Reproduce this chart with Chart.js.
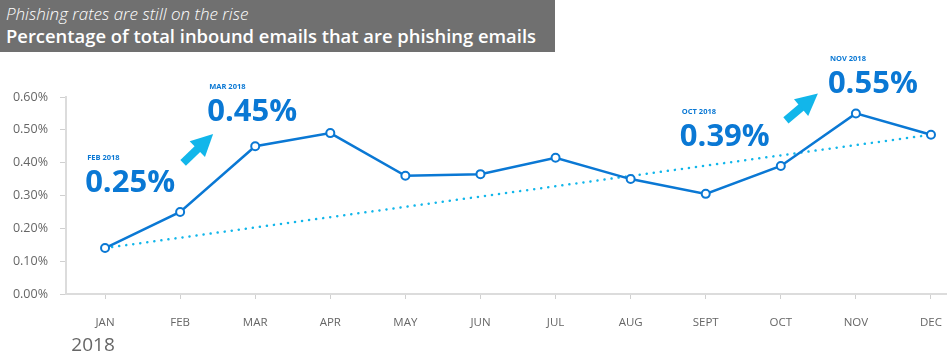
<html>
<head>
  <meta name="viewport" content="width=device-width, initial-scale=1">
  <script type="text/javascript" src="https://cdn.jsdelivr.net/npm/chart.js"></script>
  <style>
    body { margin: 0; background: #fff; }
    #wrap { position: relative; width: 952px; height: 361px; }
    #title { position: absolute; left: 0; top: 0; width: 555px; height: 52px; background: #707070; color: #fff;
      font-family: "Open Sans", sans-serif; padding-left: 6px; box-sizing: border-box; }
    #t1 { font-style: italic; font-weight: 300; font-size: 17px; line-height: 20px; padding-top: 4px; }
    #t2 { font-weight: 600; font-size: 18.4px; line-height: 24px; }
  </style>
</head>
<body>
<div id="wrap">
  <canvas id="ctx" width="952" height="361"></canvas>
  <div id="title">
    <div id="t1">Phishing rates are still on the rise</div>
    <div id="t2">Percentage of total inbound emails that are phishing emails</div>
  </div>
</div>

<script type="text/javascript">

  months = ["JAN", "FEB", "MAR", "APR", "MAY", "JUN", "JUL", "AUG", "SEPT", "OCT", "NOV", "DEC"];
  rates = [0.14, 0.25, 0.45, 0.49, 0.36, 0.365, 0.415, 0.35, 0.305, 0.39, 0.55, 0.485];
  trend = [0.14, null, null, null, null, null, null, null, null, null, null, 0.485];
  yTicks = [0, 0.1, 0.2, 0.3, 0.4, 0.5, 0.6];

  // callouts: month index, small label, big value (offsets from the point)
  callouts = [
    { i: 1, small: "FEB 2018", big: "0.25%", dx: -93, dy: -52 },
    { i: 2, small: "MAR 2018", big: "0.45%", dx: -46, dy: -57 },
    { i: 9, small: "OCT 2018", big: "0.39%", dx: -99, dy: -52 },
    { i: 10, small: "NOV 2018", big: "0.55%", dx: -26, dy: -52 }
  ];
  // arrows anchored on month index: tail -> tip offsets
  arrows = [
    { i: 1, x0: 3, y0: -49, x1: 33, y1: -78 },
    { i: 10, x0: -70, y0: 7, x1: -38, y1: -20 }
  ];

  blue = "#0a78d4";
  cyan = "#12b6ea";

  pts = function(arr) {
    return arr.map((v, i) => ({ x: i, y: v }));
  };

  extras = {
    id: "extras",
    afterDraw(c) {
      var g = c.ctx, xs = c.scales.x, ys = c.scales.y;
      g.save();
      callouts.forEach(o => {
        var px = xs.getPixelForValue(o.i), py = ys.getPixelForValue(rates[o.i]);
        g.fillStyle = blue;
        g.textBaseline = "alphabetic";
        g.font = "bold 7.5px 'Open Sans', sans-serif";
        g.fillText(o.small, px + o.dx, py + o.dy);
        g.font = "bold 31px 'Open Sans', sans-serif";
        g.fillText(o.big, px + o.dx - 2, py + o.dy + 32);
      });
      arrows.forEach(a => {
        var px = xs.getPixelForValue(a.i), py = ys.getPixelForValue(rates[a.i]);
        var x0 = px + a.x0, y0 = py + a.y0, x1 = px + a.x1, y1 = py + a.y1;
        var ang = Math.atan2(y1 - y0, x1 - x0);
        var hl = 22;
        var bx = x1 - hl * Math.cos(ang), by = y1 - hl * Math.sin(ang);
        g.strokeStyle = cyan;
        g.lineWidth = 8;
        g.beginPath();
        g.moveTo(x0, y0);
        g.lineTo(bx + 3 * Math.cos(ang), by + 3 * Math.sin(ang));
        g.stroke();
        g.fillStyle = cyan;
        g.beginPath();
        g.moveTo(x1, y1);
        g.lineTo(bx + 11 * Math.cos(ang - Math.PI / 2), by + 11 * Math.sin(ang - Math.PI / 2));
        g.lineTo(bx + 11 * Math.cos(ang + Math.PI / 2), by + 11 * Math.sin(ang + Math.PI / 2));
        g.closePath();
        g.fill();
      });
      // year under the axis
      g.fillStyle = "#666";
      g.font = "19px 'Open Sans', sans-serif";
      g.textAlign = "center";
      g.fillText("2018", xs.getPixelForValue(0) - 12, c.chartArea.bottom + 57);
      g.restore();
    }
  };

  chart = new Chart(ctx, {
    type: "line",
    data: {
      datasets: [{
        data: pts(rates),
        borderColor: blue,
        borderWidth: 2.5,
        pointRadius: 4,
        pointBorderWidth: 2,
        pointBackgroundColor: "#fff",
        pointBorderColor: blue,
        tension: 0,
        order: 0
      }, {
        data: pts(trend),
        borderColor: cyan,
        borderWidth: 2.5,
        borderDash: [0.1, 7],
        borderCapStyle: "round",
        pointRadius: 0,
        spanGaps: true,
        order: 1
      }]
    },
    options: {
      responsive: false,
      animation: false,
      layout: { padding: { left: 0, top: 97, right: 1, bottom: 0 } },
      plugins: { legend: { display: false }, tooltip: { enabled: false } },
      scales: {
        x: {
          type: "linear",
          min: -0.52,
          max: 11.2,
          afterBuildTicks: axis => { axis.ticks = months.map((m, i) => ({ value: i })); },
          afterFit: axis => { axis.paddingLeft = 0; axis.paddingRight = 0; axis.height = 67; },
          ticks: {
            autoSkip: false,
            padding: 17,
            color: "#666",
            font: { family: "'Open Sans', sans-serif", size: 11.5 },
            callback: v => months[v]
          },
          grid: { drawOnChartArea: false, tickLength: 5, color: "#d0d0d0", lineWidth: 1 },
          border: { color: "#dcdcdc", width: 2 }
        },
        y: {
          min: 0,
          max: 0.6,
          afterBuildTicks: axis => { axis.ticks = yTicks.map(v => ({ value: v })); },
          afterFit: axis => { axis.paddingTop = 0; axis.paddingBottom = 0; axis.width = 66; },
          ticks: {
            padding: 12,
            color: "#666",
            font: { family: "'Open Sans', sans-serif", size: 12.5 },
            callback: v => v.toFixed(2) + "%"
          },
          grid: { drawOnChartArea: false, tickLength: 6, color: "#d0d0d0", lineWidth: 1 },
          border: { color: "#dcdcdc", width: 2 }
        }
      }
    },
    plugins: [extras]
  });

</script>
</body>
</html>
